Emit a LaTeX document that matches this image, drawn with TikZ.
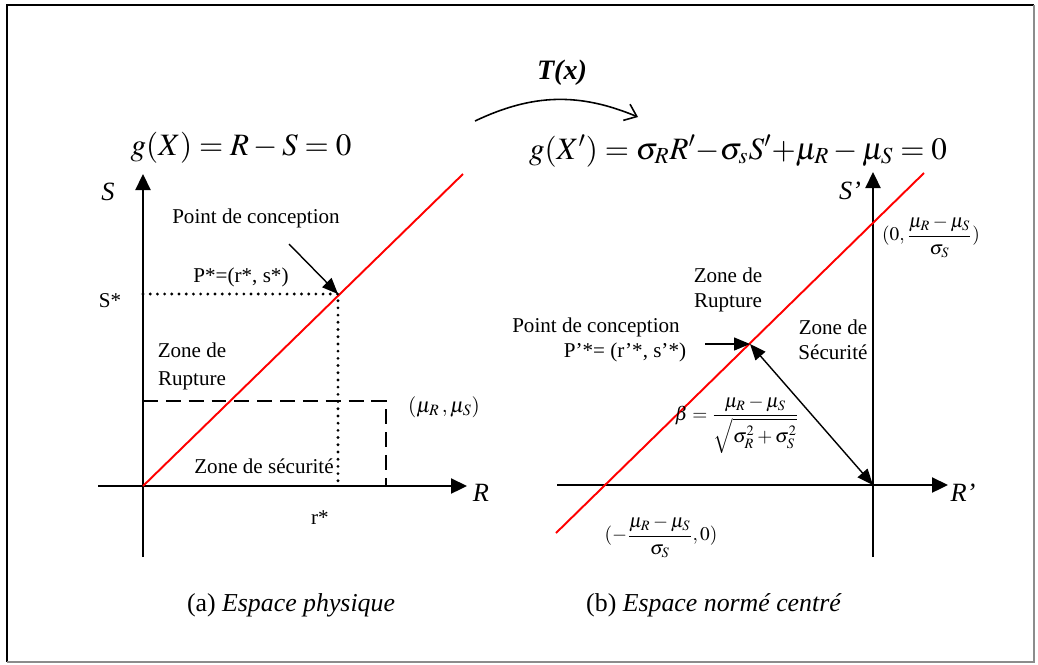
\documentclass[tikz,border=0pt]{standalone}
\usepackage{amsmath}
\usepackage{mathptmx}
\usepackage{fontspec}
\setmainfont{Liberation Serif}
\usetikzlibrary{arrows.meta}

\begin{document}
\begin{tikzpicture}[
    x=0.02cm, y=-0.02cm,
    axis/.style={line width=1.3pt, -{Triangle[length=0.32cm, width=0.3cm]}},
    limit/.style={red, line width=1.1pt},
    pointer/.style={line width=0.8pt, -{Triangle[length=0.32cm, width=0.26cm]}},
    twoway/.style={line width=0.8pt, {Triangle[length=0.32cm, width=0.26cm]}-{Triangle[length=0.32cm, width=0.26cm]}},
    dotline/.style={line width=1.8pt, dash pattern=on 0pt off 4.1pt, line cap=round},
    dashline/.style={line width=1.3pt, dash pattern=on 8.5pt off 4.5pt},
    lbl/.style={font=\fontsize{12}{14}\selectfont, inner sep=1pt},
    axlbl/.style={font=\fontsize{15}{17}\selectfont\itshape},
    eq/.style={font=\fontsize{17.7}{21}\selectfont},
    small/.style={font=\fontsize{11}{13}\selectfont, inner sep=1pt},
    caption/.style={font=\fontsize{14.7}{17}\selectfont}
]

\useasboundingbox (0,0) rectangle (1038,664);

% Frame
\draw[line width=0.9pt] (7,662) -- (7,5) -- (1034,5);
\draw[line width=0.9pt, black!45] (7,662) -- (1034,662) -- (1034,5);

% Transformation T(x)
\coordinate (tx1) at (475,121);
\coordinate (tx2) at (638,117);
\draw[line width=0.9pt, -{Straight Barb[length=0.22cm, width=0.35cm]}] (tx1) to[bend left=24] (tx2);
\node[font=\fontsize{16}{18}\selectfont\bfseries\itshape] (tx) at (562,73) {T(x)};

% Left: physical space
\node[eq] (eqa) at (241,148) {$g(X) = R - S = 0$};
\coordinate (oa) at (143,486);
\coordinate (sa0) at (143,557);
\coordinate (sa1) at (143,174);
\coordinate (ra0) at (98,486);
\coordinate (ra1) at (467,486);
\draw[axis] (sa0) -- (sa1);
\draw[axis] (ra0) -- (ra1);
\coordinate (la) at (463,174);
\draw[limit] (oa) -- (la);

\coordinate (pa) at (338,294);
\coordinate (pas) at (143,294);
\coordinate (par) at (338,486);
\draw[dotline] (pas) -- (pa) -- (par);

\coordinate (ma) at (386,401);
\coordinate (mas) at (143,401);
\coordinate (mar) at (386,486);
\draw[dashline] (mas) -- (ma) -- (mar);

\node[axlbl] (sl) at (108,192) {S};
\node[axlbl] (rl) at (481,493) {R};
\node[lbl] (sstar) at (110,301) {S*};
\node[lbl] (rstar) at (320,518) {r*};
\node[lbl] (pca) at (256,218) {Point de conception};
\node[lbl] (pstar) at (241,277) {P*=(r*, s*)};
\node[lbl, align=center, font=\fontsize{12}{16}\selectfont] (zra) at (192,366) {Zone de\\Rupture};
\node[lbl] (zsa) at (264,466) {Zone de sécurité};
\node[small, font=\fontsize{12}{14}\selectfont] (mua) at (444,407) {$(\mu_R\,,\mu_S)$};
\node[caption] (capa) at (291,605) {(a) \textit{Espace physique}};

\coordinate (pcas) at (289,244);
\draw[pointer] (pcas) -- (pa);

% Right: normed centred space
\node[eq] (eqb) at (738,151) {$g(X') = \sigma_R R'{-}\sigma_s S'{+}\mu_R - \mu_S = 0$};
\coordinate (ob) at (873,485);
\coordinate (sb0) at (873,557);
\coordinate (sb1) at (873,172);
\coordinate (rb0) at (557,485);
\coordinate (rb1) at (948,485);
\draw[axis] (sb0) -- (sb1);
\draw[axis] (rb0) -- (rb1);
\coordinate (lb0) at (556,533);
\coordinate (lb1) at (924,173);
\draw[limit] (lb0) -- (lb1);

\coordinate (pb) at (750,344);
\draw[twoway] (pb) -- (ob);
\coordinate (pcbs) at (705,344);
\draw[pointer] (pcbs) -- (pb);

\node[axlbl] (slb) at (850,191) {S’};
\node[axlbl] (rlb) at (963,493) {R’};
\node[small] (ib) at (931,237) {$(0,\dfrac{\mu_R-\mu_S}{\sigma_S})$};
\node[small] (jb) at (661,537) {$(-\dfrac{\mu_R-\mu_S}{\sigma_S},0)$};
\node[lbl, align=center] (zrb) at (728,290) {Zone de\\Rupture};
\node[lbl, align=center] (zsb) at (833,340) {Zone de\\Sécurité};
\node[lbl] (pcb) at (596,327) {Point de conception};
\node[lbl] (pstarb) at (625,352) {P’*= (r’*, s’*)};
\node[small] (beta) at (737,425) {$\beta = \dfrac{\mu_R-\mu_S}{\sqrt{\sigma_R^2+\sigma_S^2}}$};
\node[caption] (capb) at (714,605) {(b) \textit{Espace normé centré}};

\end{tikzpicture}
\end{document}
